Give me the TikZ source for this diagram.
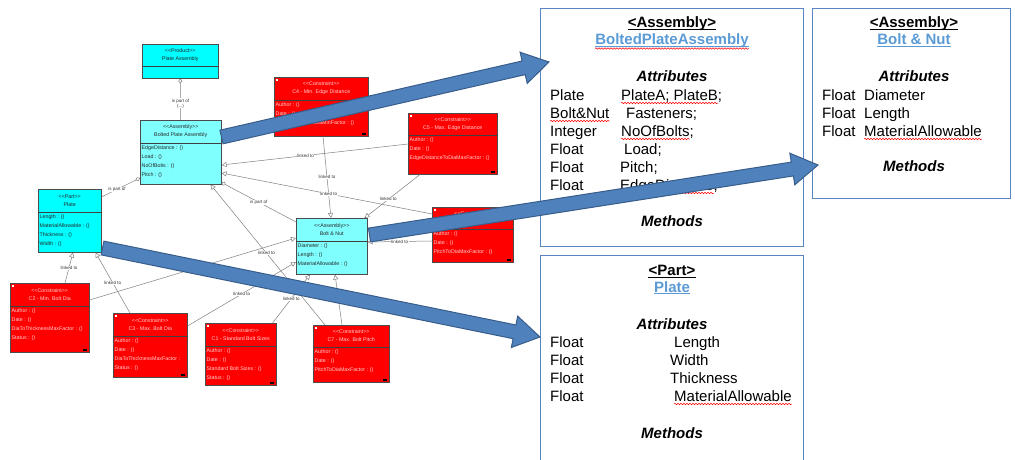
\documentclass[tikz,border=0pt]{standalone}
\usepackage{fontspec}
\setmainfont{Liberation Sans}
\usepackage{xcolor}
\usepackage{tikz}
\usetikzlibrary{calc,arrows.meta,decorations.pathmorphing}

\definecolor{umlcyan}{HTML}{00FFFF}
\definecolor{umllight}{HTML}{80FFFF}
\definecolor{umlred}{HTML}{FF0000}
\definecolor{fatblue}{HTML}{4F81BD}
\definecolor{fatedge}{HTML}{385D8A}
\definecolor{boxedge}{HTML}{5B85C0}
\definecolor{titleblue}{HTML}{5B9BD5}

% stereotype brackets
\newcommand{\stereo}[1]{{<}{<}#1{>}{>}}
% class box: name, style, north west corner, width, head height, total height, head, body
\newcommand{\umlclass}[8]{%
  \node[#2, minimum width=#4pt, minimum height=#6pt, anchor=north west] (#1) at (#3) {};
  \draw[divider] ([yshift=-#5pt]#1.north west) -- ([yshift=-#5pt]#1.north east);
  \node[umlhead, #2 text] (#1-head) at ([yshift=-#5pt/2]#1.north) {#7};
  \node[umlbody, #2 text, anchor=north west] (#1-body) at ([yshift=-#5pt]#1.north west) {#8};
}
% block arrow from #1 to #2
\newcommand{\fatarrow}[2]{%
  \filldraw[fat] ($(#1)!7pt!90:(#2)$) -- ($(#2)!26pt!(#1)!7pt!90:(#2)$)
    -- ($(#2)!26pt!(#1)!16pt!90:(#2)$) -- (#2)
    -- ($(#2)!26pt!(#1)!16pt!-90:(#2)$) -- ($(#2)!26pt!(#1)!7pt!-90:(#2)$)
    -- ($(#1)!7pt!-90:(#2)$) -- cycle;
}

\begin{document}
\begin{tikzpicture}[
  x=1pt, y=-1pt,
  uml/.style={draw=gray!60!black, line width=0.5pt},
  divider/.style={draw=black!75, line width=0.5pt},
  cyanbox/.style={uml, fill=umlcyan},
  lightbox/.style={uml, fill=umllight},
  consbox/.style={uml, fill=umlred, path picture={
      \fill[white] ([xshift=1.5pt,yshift=-1.5pt]path picture bounding box.north west) rectangle ++(2.5pt,-2.5pt);
      \fill[black] ([xshift=-6pt,yshift=1.5pt]path picture bounding box.south east) rectangle ++(4pt,1.8pt);}},
  cyanbox text/.style={text=black!85},
  lightbox text/.style={text=black!85},
  consbox text/.style={text=white!82!red},
  umlhead/.style={font=\fontsize{5.3}{8}\selectfont, inner sep=0.5pt, align=center},
  umlbody/.style={font=\fontsize{5.3}{9}\selectfont, inner xsep=1.5pt, inner ysep=2.5pt, align=left},
  link/.style={draw=gray, line width=0.5pt, -{Triangle[open, length=5pt, width=5pt]}},
  part/.style={draw=gray, line width=0.5pt, -{Diamond[open, length=5pt, width=4pt]}},
  lbl/.style={font=\fontsize{4.5}{5}\selectfont, fill=white, inner sep=0.4pt, text=black!80, align=center},
  rbox/.style={draw=boxedge, line width=0.9pt, fill=white, anchor=north west},
  rtxt/.style={font=\fontsize{15}{18}\selectfont, inner sep=0pt, anchor=base west},
  rhead/.style={font=\fontsize{15}{18}\selectfont\bfseries, inner sep=0pt, anchor=base},
  rname/.style={rhead, text=titleblue},
  rsec/.style={font=\fontsize{15}{18}\selectfont\bfseries\itshape, inner sep=0pt, anchor=base},
  uline/.style={line width=0.9pt},
  spell/.style={draw=red, line width=0.5pt, decorate, decoration={snake, amplitude=0.8pt, segment length=3pt}},
  fat/.style={fill=fatblue, draw=fatedge, line width=1pt, line join=miter},
]
\path[fill=white, use as bounding box] (0,0) rectangle (1015,459);

% product and assemblies
\umlclass{pa}{cyanbox}{142,44}{76}{22}{34}{\stereo{Product}\\Plate Assembly}{}
\umlclass{bpa}{lightbox}{140,120}{81}{23}{64}{\stereo{Assembly}\\Bolted Plate Assembly}{EdgeDistance : ()\\Load : ()\\NoOfBolts : ()\\Pitch : ()}
\umlclass{plate}{cyanbox}{38,189}{63}{23}{63}{\stereo{Part}\\Plate}{Length : ()\\MaterialAllowable : ()\\Thickness : ()\\Width : ()}
\umlclass{bn}{lightbox}{296,218}{71}{23}{56}{\stereo{Assembly}\\Bolt \& Nut}{Diameter : ()\\Length : ()\\MaterialAllowable : ()}
% constraints
\umlclass{cfour}{consbox}{274,77}{94}{23}{59}{\stereo{Constraint}\\C4 - Min. Edge Distance}{Author : ()\\Date : ()\\EdgeDistanceToDiaMinFactor : ()}
\umlclass{cfive}{consbox}{408,113}{89}{22}{61}{\stereo{Constraint}\\C5 - Max. Edge Distance}{Author : ()\\Date : ()\\EdgeDistanceToDiaMaxFactor : ()}
\umlclass{csix}{consbox}{432,207}{81}{22}{55}{\stereo{Constraint}\\C6 - Min. Bolt Pitch}{Author : ()\\Date : ()\\PitchToDiaMaxFactor : ()}
\umlclass{ctwo}{consbox}{10,283}{79}{23}{69}{\stereo{Constraint}\\C2 - Min. Bolt Dia}{Author : ()\\Date : ()\\DiaToThicknessMaxFactor : ()\\Status : ()}
\umlclass{cthree}{consbox}{113,313}{74}{23}{64}{\stereo{Constraint}\\C3 - Max. Bolt Dia}{Author : ()\\Date : ()\\DiaToThicknessMaxFactor :\\Status : ()}
\umlclass{cone}{consbox}{205,323}{71}{23}{62}{\stereo{Constraint}\\C1 - Standard Bolt Sizes}{Author : ()\\Date : ()\\Standard Bolt Sizes : ()\\Status : ()}
\umlclass{cseven}{consbox}{313,325}{76}{22}{57}{\stereo{Constraint}\\C7 - Max. Bolt Pitch}{Author : ()\\Date : ()\\PitchToDiaMaxFactor : ()}

% part-of links
\draw[part] (bpa.north) -- node[lbl, pos=0.4] (l1) {is part of\\(...)} (pa.south);
\draw[part] ([yshift=-8pt]plate.north east) -- node[lbl, pos=0.4] (l2) {is part of} ([yshift=-58pt]bpa.north west);
\draw[part] ([yshift=-4pt]bn.north west) -- node[lbl, pos=0.5] (l3) {is part of} ([yshift=2pt]bpa.south east);
% constraint links
\draw[link] ([xshift=49pt]cfour.south west) -- node[lbl, pos=0.5] (l4) {linked to} ([xshift=35pt]bn.north west);
\draw[link] ([yshift=-31pt]cfive.north west) -- node[lbl, pos=0.55] (l5) {linked to} ([yshift=-45pt]bpa.north east);
\draw[link] ([yshift=-7pt]csix.north west) -- node[lbl, pos=0.49] (l6) {linked to} ([yshift=-53pt]bpa.north east);
\draw[link] ([xshift=12pt]cfive.south west) -- node[lbl, pos=0.57] (l7) {linked to} ([xshift=-3pt]bn.north east);
\draw[link] ([yshift=-34pt]csix.north west) -- node[lbl, pos=0.5] (l8) {linked to} ([yshift=-24pt]bn.north east);
\draw[link] ([xshift=55pt]ctwo.north west) -- node[lbl, pos=0.5] (l9) {linked to} ([xshift=35pt]plate.south west);
\draw[link] ([xshift=17pt]cthree.north west) -- node[lbl, pos=0.5] (l10) {linked to} ([xshift=-6pt]plate.south east);
\draw[link] ([yshift=-17pt]ctwo.north east) -- ([yshift=-20pt]bn.north west);
\draw[link] ([yshift=-13pt]cthree.north east) -- node[lbl, pos=0.5] (l12) {linked to} ([yshift=-44pt]bn.north west);
\draw[link] ([xshift=-4pt]cone.north east) -- node[lbl, pos=0.5] (l13) {linked to} ([xshift=14pt]bn.south west);
\draw[link] ([xshift=29pt]cseven.north west) -- ([xshift=39pt]bn.south west);
\draw[link] ([xshift=12pt]cseven.north west) -- node[lbl, pos=0.51] (l15) {linked to} ([xshift=-11pt]bpa.south east);

% class cards
\node[rbox, minimum width=263pt, minimum height=238pt] (asm) at (540,8) {};
\node[rbox, minimum width=198pt, minimum height=190pt] (bolt) at (812,8) {};
\node[rbox, minimum width=263pt, minimum height=230pt] (prt) at (540,255) {};

% BoltedPlateAssembly card
\node[rhead] (asmst) at (672,27.5) {<Assembly>};
\node[rname] (asmname) at (672,44.5) {BoltedPlateAssembly};
\node[rsec] (asmattr) at (672,81.5) {Attributes};
\node[rtxt] (at1) at (550,100) {Plate};
\node[rtxt] (an1) at (621,100) {PlateA; PlateB;};
\node[rtxt] (at2) at (550,118) {Bolt\&Nut};
\node[rtxt] (an2) at (626,118) {Fasteners;};
\node[rtxt] (at3) at (550,136) {Integer};
\node[rtxt] (an3) at (621,136) {NoOfBolts;};
\node[rtxt] (at4) at (550,154) {Float};
\node[rtxt] (an4) at (624,154) {Load;};
\node[rtxt] (at5) at (550,172) {Float};
\node[rtxt] (an5) at (620,172) {Pitch;};
\node[rtxt] (at6) at (550,190) {Float};
\node[rtxt] (an6) at (620,190) {EdgeDistance;};
\node[rsec] (asmmeth) at (672,226) {Methods};

% Bolt & Nut card
\node[rhead] (boltst) at (914,27.5) {<Assembly>};
\node[rname] (boltname) at (914,44.5) {Bolt \& Nut};
\node[rsec] (boltattr) at (914,81.5) {Attributes};
\node[rtxt] (bt1) at (822,100) {Float};
\node[rtxt] (bn1) at (864,100) {Diameter};
\node[rtxt] (bt2) at (822,118) {Float};
\node[rtxt] (bn2) at (864,118) {Length};
\node[rtxt] (bt3) at (822,136) {Float};
\node[rtxt] (bn3) at (864,136) {MaterialAllowable};
\node[rsec] (boltmeth) at (914,171.5) {Methods};

% Plate card
\node[rhead] (prtst) at (672,275.5) {<Part>};
\node[rname] (prtname) at (672,292) {Plate};
\node[rsec] (prtattr) at (672,329.5) {Attributes};
\node[rtxt] (pt1) at (550,347) {Float};
\node[rtxt] (pn1) at (674,347) {Length};
\node[rtxt] (pt2) at (550,365) {Float};
\node[rtxt] (pn2) at (670,365) {Width};
\node[rtxt] (pt3) at (550,383) {Float};
\node[rtxt] (pn3) at (670,383) {Thickness};
\node[rtxt] (pt4) at (550,401) {Float};
\node[rtxt] (pn4) at (674,401) {MaterialAllowable};
\node[rsec] (prtmeth) at (672,438) {Methods};

% underlines
\draw[uline] ([yshift=-1.5pt]asmst.base west) -- ([yshift=-1.5pt]asmst.base east);
\draw[uline, titleblue] ([yshift=-1.5pt]asmname.base west) -- ([yshift=-1.5pt]asmname.base east);
\draw[uline] ([yshift=-1.5pt]boltst.base west) -- ([yshift=-1.5pt]boltst.base east);
\draw[uline, titleblue] ([yshift=-1.5pt]boltname.base west) -- ([yshift=-1.5pt]boltname.base east);
\draw[uline] ([yshift=-1.5pt]prtst.base west) -- ([yshift=-1.5pt]prtst.base east);
\draw[uline, titleblue] ([yshift=-1.5pt]prtname.base west) -- ([yshift=-1.5pt]prtname.base east);
% spelling marks
\draw[spell] ([yshift=-4pt]asmname.base west) -- ([yshift=-4pt]asmname.base east);
\draw[spell] ([yshift=-3pt]an1.base west) -- ([yshift=-3pt,xshift=-4pt]an1.base east);
\draw[spell] ([yshift=-3pt]at2.base west) -- ([yshift=-3pt]at2.base east);
\draw[spell] ([yshift=-3pt]an3.base west) -- ([yshift=-3pt,xshift=-4pt]an3.base east);
\draw[spell] ([yshift=-3pt]an6.base west) -- ([yshift=-3pt,xshift=-4pt]an6.base east);
\draw[spell] ([yshift=-3pt]bn3.base west) -- ([yshift=-3pt]bn3.base east);
\draw[spell] ([yshift=-3pt]pn4.base west) -- ([yshift=-3pt]pn4.base east);

% block arrows
\coordinate (f1s) at ([yshift=-17pt]bpa.north east);
\coordinate (f1e) at ([xshift=9pt,yshift=-54pt]asm.north west);
\coordinate (f2s) at ([xshift=2pt,yshift=-17pt]bn.north east);
\coordinate (f2e) at ([xshift=6pt,yshift=-157pt]bolt.north west);
\coordinate (f3s) at ([xshift=1pt,yshift=-59pt]plate.north east);
\coordinate (f3e) at ([yshift=-82pt]prt.north west);
\fatarrow{f1s}{f1e}
\fatarrow{f2s}{f2e}
\fatarrow{f3s}{f3e}
\end{tikzpicture}
\end{document}
